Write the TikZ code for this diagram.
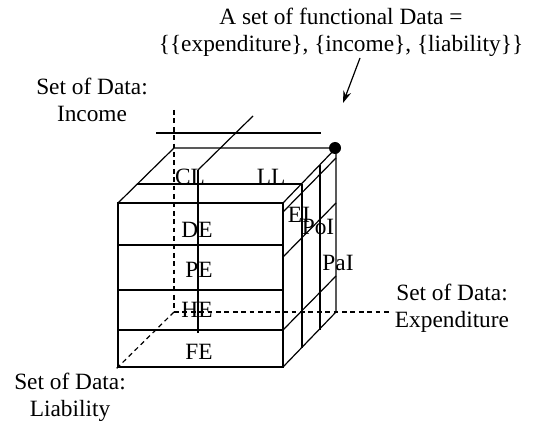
\documentclass[tikz,border=0pt]{standalone}
\usepackage{fontspec}
\setmainfont{Liberation Serif}
\usetikzlibrary{arrows.meta}

\begin{document}
\begin{tikzpicture}[x=0.75pt,y=0.75pt,yscale=-1,xscale=1,
  every path/.style={line width=0.9pt},
  axisdash/.style={dash pattern=on 3.6pt off 2.7pt},
  lbl/.style={inner sep=0.75pt,font=\fontsize{17.5}{20.5}\selectfont},
  setlbl/.style={lbl,align=center},
  cornerdot/.style={circle,fill=black,inner sep=0pt,minimum size=9pt}]
\path[use as bounding box] (0,0) rectangle (541,423);

%Straight Lines: front face
\draw (118,203) rectangle (283,367);
\draw (118,245) -- (283,245);
\draw (118,290) -- (283,290);
\draw (118,330) -- (283,330);
%Straight Lines: top face
\draw (118,203) -- (174,148) -- (336,148) -- (283,203);
\draw (137,184) -- (302,184);
%Straight Lines: right face
\draw (336,148) -- (336,312) -- (283,367);
\draw (302,184) -- (302,348);
\draw (320,165) -- (320,330);
\draw (283,212) -- (336,158);
\draw (283,257) -- (336,203);
\draw (283,330) -- (336,276);
%Straight Lines: loose cross
\draw (156,133) -- (321,133);
\draw (198,170) -- (253,116);
\draw (198,170) -- (198,333);
%Dashed axes
\draw [axisdash] (174,110) -- (174,312);
\draw [axisdash] (174,312) -- (390,312);
\draw [axisdash] (174,312) -- (116,369);

%Shape: Circle
\node [cornerdot] (corner) at (335,148) {};

% Text Node
\node [setlbl] (funcset) at (341,32) {A set of functional Data =\\\{\{expenditure\}, \{income\}, \{liability\}\}};
% Text Node
\node [setlbl] (incomeset) at (92,100) {Set of Data:\\Income};
% Text Node
\node [setlbl] (expset) at (452,308) {Set of Data:\\Expenditure};
% Text Node
\node [setlbl] (liabset) at (70,397) {Set of Data:\\Liability};

% Text Node
\node [lbl] (cl) at (190,177) {CL};
\node [lbl] (ll) at (271,177) {LL};
\node [lbl] (de) at (197,230) {DE};
\node [lbl] (pe) at (199,270) {PE};
\node [lbl] (he) at (197,310) {HE};
\node [lbl] (fe) at (199,352) {FE};
\node [lbl] (ei) at (299,215) {EI};
\node [lbl] (poi) at (318,227) {PoI};
\node [lbl] (pai) at (338,263) {PaI};

%Arrow to the corner
\coordinate (ptrtail) at (360,58);
\coordinate (ptrtip) at (343,103);
\draw [-{Stealth[length=9pt,width=6pt]}] (ptrtail) -- (ptrtip);

\end{tikzpicture}
\end{document}
